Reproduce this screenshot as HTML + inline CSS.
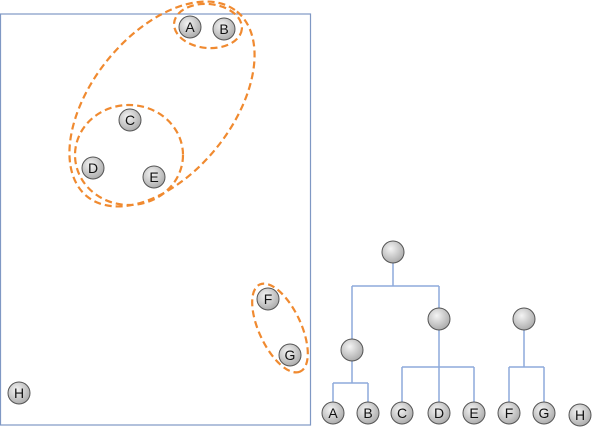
<!DOCTYPE html>
<html><head><style>body{margin:0;background:#fff}svg{display:block}</style></head><body>
<svg width="601" height="438" viewBox="0 0 601 438" xmlns="http://www.w3.org/2000/svg" font-family="Liberation Sans, sans-serif">
<defs><radialGradient id="g" cx="40%" cy="35%" r="70%"><stop offset="0" stop-color="#f4f4f4"/><stop offset="1" stop-color="#a8a8a8"/></radialGradient></defs>
<rect x="0.5" y="14" width="310" height="411" fill="none" stroke="#7f98c4" stroke-width="1.2"/>
<g fill="none" stroke="#f08a30" stroke-width="2.2" stroke-dasharray="7,4">
<ellipse cx="162" cy="104" rx="119" ry="70" transform="rotate(-51 162 104)"/>
<ellipse cx="208" cy="26" rx="34" ry="22" transform="rotate(5 208 26)"/>
<ellipse cx="129" cy="155" rx="54" ry="50"/>
<ellipse cx="280" cy="328" rx="48" ry="21" transform="rotate(65 280 328)"/>
</g>
<g stroke="#8eaadb" stroke-width="1.5" fill="none">
<path d="M393 252V286M352 286H439M352 286V350M439 286V319M352 350V383M333 383H368M333 383V413M368 383V413"/>
<path d="M439 319V367M402 367H474M402 367V413M439 367V413M474 367V413"/>
<path d="M524 319V367M509 367H544M509 367V413M544 367V413"/>
</g>
<g stroke="#555" stroke-width="1" fill="url(#g)">
<circle cx="393" cy="252" r="11"/><circle cx="352" cy="350" r="11"/><circle cx="439" cy="319" r="11"/><circle cx="524" cy="319" r="11"/>
</g>
<g font-size="14" text-anchor="middle">
<g stroke="#555" fill="url(#g)">
<circle cx="190" cy="27" r="11"/><circle cx="224" cy="29" r="11"/><circle cx="130" cy="120" r="11"/><circle cx="93" cy="168" r="11"/><circle cx="154" cy="177" r="11"/><circle cx="268" cy="299" r="11"/><circle cx="290" cy="355" r="11"/><circle cx="19" cy="393" r="11"/>
<circle cx="333" cy="413" r="11"/><circle cx="368" cy="413" r="11"/><circle cx="402" cy="413" r="11"/><circle cx="439" cy="413" r="11"/><circle cx="474" cy="413" r="11"/><circle cx="509" cy="413" r="11"/><circle cx="544" cy="413" r="11"/><circle cx="580" cy="415" r="11"/>
</g>
<g fill="#111">
<text x="190" y="32">A</text><text x="224" y="34">B</text><text x="130" y="125">C</text><text x="93" y="173">D</text><text x="154" y="182">E</text><text x="268" y="304">F</text><text x="290" y="360">G</text><text x="19" y="398">H</text>
<text x="333" y="418">A</text><text x="368" y="418">B</text><text x="402" y="418">C</text><text x="439" y="418">D</text><text x="474" y="418">E</text><text x="509" y="418">F</text><text x="544" y="418">G</text><text x="580" y="420">H</text>
</g></g>
</svg>
</body></html>
